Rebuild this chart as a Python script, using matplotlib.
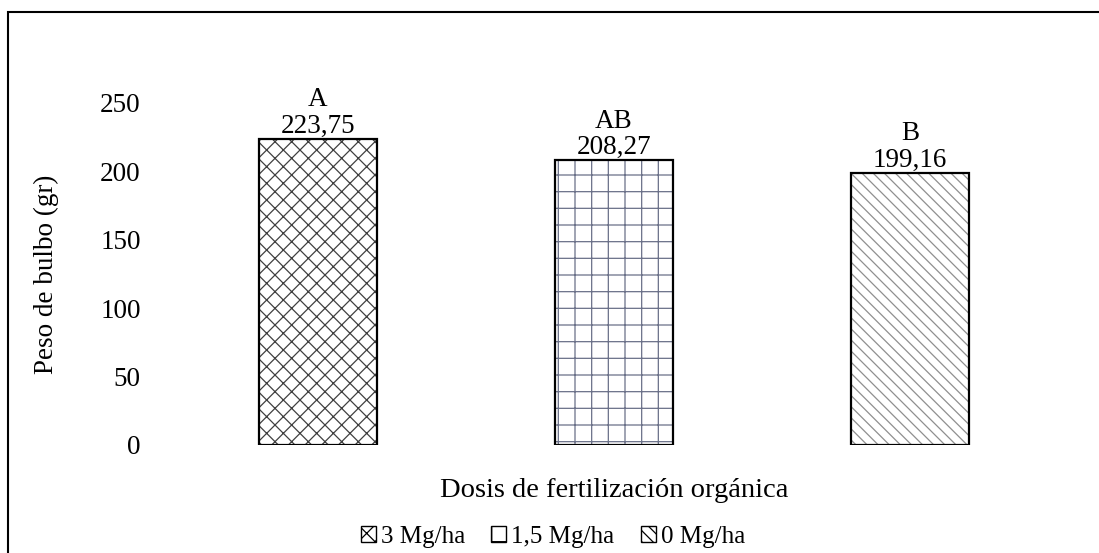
import matplotlib
matplotlib.use("Agg")
import matplotlib.pyplot as plt
from matplotlib.patches import Rectangle, Patch

categories = ["3 Mg/ha", "1,5 Mg/ha", "0 Mg/ha"]
values = [223.75, 208.27, 199.16]
letters = ["A", "AB", "B"]
value_labels = ["223,75", "208,27", "199,16"]
yticks = [0, 50, 100, 150, 200, 250]

hatches = ["xx", "+", "\\\\\\"]
hatch_colors = ["#404040", "#6a7088", "#8f8f8f"]

plt.rcParams['font.family'] = ['Liberation Serif', 'DejaVu Serif']
plt.rcParams['hatch.linewidth'] = 0.9

W, H = 1099, 553
FS = 19.5
fig = plt.figure(figsize=(W/100, H/100), dpi=100)
ax = fig.add_axes([170/W, (H-445)/H, 888/W, 342/H])

for i, (v, h, c) in enumerate(zip(values, hatches, hatch_colors)):
    ax.bar(i, v, width=0.4, color="white", edgecolor=c, hatch=h, linewidth=0, zorder=2)
    ax.bar(i, v, width=0.4, fill=False, edgecolor="black", linewidth=1.6, zorder=3)
    ax.annotate(f"{letters[i]}\n{value_labels[i]}", (i, v), xytext=(0, 0),
                textcoords="offset points", ha="center", va="bottom",
                fontsize=FS, linespacing=1.08)

ax.set_xlim(-0.5, 2.5)
ax.set_ylim(0, 250)
ax.set_yticks(yticks)
ax.set_yticklabels([str(t) for t in yticks], fontsize=FS)
ax.set_xticks([])
ax.tick_params(axis='y', length=0, pad=21)
for s in ax.spines.values():
    s.set_visible(False)
ax.set_ylabel("Peso de bulbo (gr)", fontsize=FS, labelpad=30)
ax.set_xlabel("Dosis de fertilización orgánica", fontsize=20.5, labelpad=24)

handles = [Patch(facecolor="white", edgecolor="black", hatch=h, linewidth=1.0) for h in hatches]
fig.legend(handles, categories, loc="center", bbox_to_anchor=(553/W, 1-537/H),
           ncol=3, frameon=False, fontsize=18, handlelength=0.6, handleheight=0.6,
           handletextpad=0.2, columnspacing=1.05, borderpad=0)

fig.add_artist(Rectangle((8/W, -0.1), 1.2, 1 - 12/H + 0.1, transform=fig.transFigure,
                         fill=False, edgecolor="black", linewidth=1.5))

fig.savefig("out.png", dpi=100)
